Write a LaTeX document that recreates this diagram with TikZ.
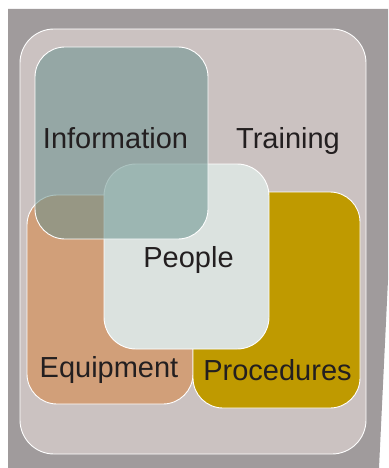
\documentclass[tikz,border=0pt]{standalone}
\usepackage{fontspec}
\setmainfont{Liberation Sans}
\definecolor{outergrey}{HTML}{A09B9C}
\definecolor{trainbg}{HTML}{CBC2C1}
\definecolor{equipc}{HTML}{D19F79}
\definecolor{procc}{HTML}{BF9A00}
\definecolor{peoplec}{HTML}{DBE2DF}
\definecolor{infoc}{HTML}{69928E}
\definecolor{txt}{HTML}{231F20}
\tikzset{
  box/.style={rectangle, draw=white, line width=0.9pt, inner sep=0pt, outer sep=0pt, rounded corners=30pt},
  lbl/.style={anchor=base, inner sep=0pt, text=txt, font=\fontsize{29}{34}\selectfont},
}
\begin{document}
\begin{tikzpicture}[x=1pt,y=-1pt]
\useasboundingbox (0,0) rectangle (388,468);
\fill[outergrey] (8,9) -- (388,9) -- (388,280) -- (379,468) -- (8,468) -- cycle;
\node[box, fill=trainbg, rounded corners=34pt, minimum width=346pt, minimum height=425pt] (training) at (193,241.5) {};
\node[box, fill=equipc, minimum width=166pt, minimum height=209pt] (equip) at (110,299.5) {};
\node[box, fill=procc, minimum width=167pt, minimum height=216pt] (proc) at (276.5,300) {};
\node[box, fill=peoplec, rounded corners=32pt, minimum width=165pt, minimum height=185pt] (people) at (186.5,256.5) {};
\node[box, fill=infoc, fill opacity=0.55, minimum width=173pt, minimum height=192pt] (info) at (121.5,143) {};
\node[lbl] (tinfo) at (115.5,148) {Information};
\node[lbl] (ttrain) at (288,148) {Training};
\node[lbl] (tpeople) at (188.5,267) {People};
\node[lbl] (tequip) at (109,377) {Equipment};
\node[lbl] (tproc) at (277.5,380) {Procedures};
\end{tikzpicture}
\end{document}
